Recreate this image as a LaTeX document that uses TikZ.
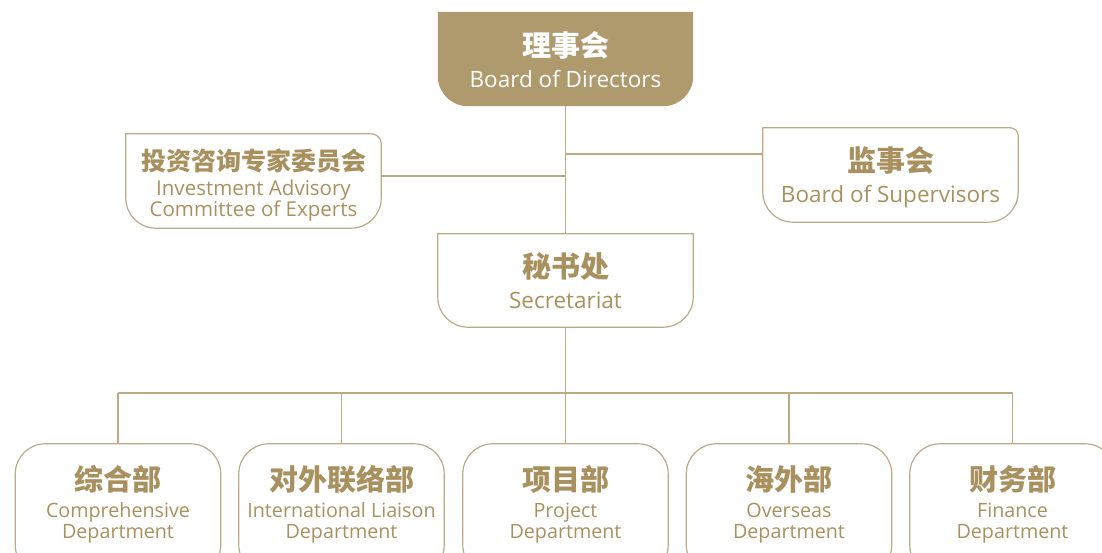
\documentclass[tikz,border=0pt]{standalone}
\usepackage{fontspec}
\setmainfont{Open Sans}
\newfontfamily\cjk{Noto Sans CJK SC}
\usetikzlibrary{calc}
\definecolor{goldfill}{HTML}{AF9A6E}
\definecolor{goldtext}{HTML}{A8915F}
\definecolor{goldline}{HTML}{BCAA86}
% #1 style, #2 node, #3 rTL, #4 rTR, #5 rBR, #6 rBL
\newcommand\boxoutline[6]{%
  \path[#1] ($(#2.north west)+(#3,0)$) -- ($(#2.north east)-(#4,0)$)
    arc[start angle=90,end angle=0,radius=#4pt]
    -- ($(#2.south east)+(0,#5)$)
    arc[start angle=0,end angle=-90,radius=#5pt]
    -- ($(#2.south west)+(#6,0)$)
    arc[start angle=270,end angle=180,radius=#6pt]
    -- ($(#2.north west)-(0,#3)$)
    arc[start angle=180,end angle=90,radius=#3pt] -- cycle;}
\begin{document}
\begin{tikzpicture}[x=1pt,y=1pt,
  frame/.style={minimum width=255pt,minimum height=94pt,inner sep=0pt,draw=none},
  dept/.style={minimum width=205pt,minimum height=131pt,inner sep=0pt,draw=none},
  cn/.style={font=\cjk\bfseries\fontsize{29}{30}\selectfont,text=goldtext,inner sep=0pt},
  cnsmall/.style={font=\cjk\bfseries\fontsize{25}{27}\selectfont,text=goldtext,inner sep=0pt},
  en/.style={font=\fontsize{22.5}{23}\selectfont,text=goldtext,align=center,inner sep=0pt},
  eninv/.style={font=\fontsize{20.5}{21}\selectfont,text=goldtext,align=center,inner sep=0pt},
  ensmall/.style={font=\fontsize{19.7}{20.5}\selectfont,text=goldtext,align=center,inner sep=0pt},
  outline/.style={draw=goldline,line width=1.2pt},
  filled/.style={fill=goldfill},
  link/.style={draw=goldline,line width=1.2pt}]
\useasboundingbox (0,0) rectangle (1102,553);
\clip (0,0) rectangle (1102,553);
% frames
\node[frame] (board) at (565.5,494) {};
\node[frame] (invest) at (253.5,372) {};
\node[frame] (superv) at (890.5,378) {};
\node[frame,minimum height=93pt] (secr) at (565.5,272.5) {};
\node[dept] (d1) at (118,43.5) {};
\node[dept] (d2) at (341.5,43.5) {};
\node[dept] (d3) at (565.5,43.5) {};
\node[dept] (d4) at (789,43.5) {};
\node[dept] (d5) at (1012.5,43.5) {};
% outlines
\boxoutline{filled}{board}{0.01}{0.01}{30}{30}
\boxoutline{outline}{invest}{0.01}{10}{30}{30}
\boxoutline{outline}{superv}{0.01}{8}{30}{30}
\boxoutline{outline}{secr}{0.01}{0.01}{30}{30}
\foreach \d in {d1,d2,d3,d4,d5}{\boxoutline{outline}{\d}{30}{30}{30}{30}}
% connectors
\coordinate (jInv) at (board.south |- 0,377);
\coordinate (jSup) at (board.south |- 0,399);
\coordinate (bus) at (secr.south |- 0,160);
\draw[link] (board.south) -- (secr.north);
\draw[link] (invest.east |- jInv) -- (jInv);
\draw[link] (jSup) -- (superv.west |- jSup);
\draw[link] (secr.south) -- (bus);
\draw[link] (d1.north |- bus) -- (d5.north |- bus);
\foreach \d in {d1,d2,d3,d4,d5}{\draw[link] (\d.north |- bus) -- (\d.north);}
% texts
\node[cn,text=white] (t0c) at (565.5,508) {理事会};
\node[en,text=white] (t0e) at (565.5,473.5) {Board of Directors};
\node[cnsmall] (t1c) at (253.5,392) {投资咨询专家委员会};
\node[eninv] (t1e) at (253.5,352) {Investment Advisory\\Committee of Experts};
\node[cn] (t2c) at (890.5,393) {监事会};
\node[en] (t2e) at (890.5,356.5) {Board of Supervisors};
\node[cn] (t3c) at (565.5,286) {秘书处};
\node[en] (t3e) at (565.5,252.5) {Secretariat};
\node[cn] (t4c) at (118,74) {综合部};
\node[ensmall] (t4e) at (118,30) {Comprehensive\\Department};
\node[cn] (t5c) at (341.5,74) {对外联络部};
\node[ensmall] (t5e) at (341.5,30) {International Liaison\\Department};
\node[cn] (t6c) at (565.5,74) {项目部};
\node[ensmall] (t6e) at (565.5,30) {Project\\Department};
\node[cn] (t7c) at (789,74) {海外部};
\node[ensmall] (t7e) at (789,30) {Overseas\\Department};
\node[cn] (t8c) at (1012.5,74) {财务部};
\node[ensmall] (t8e) at (1012.5,30) {Finance\\Department};
\end{tikzpicture}
\end{document}
